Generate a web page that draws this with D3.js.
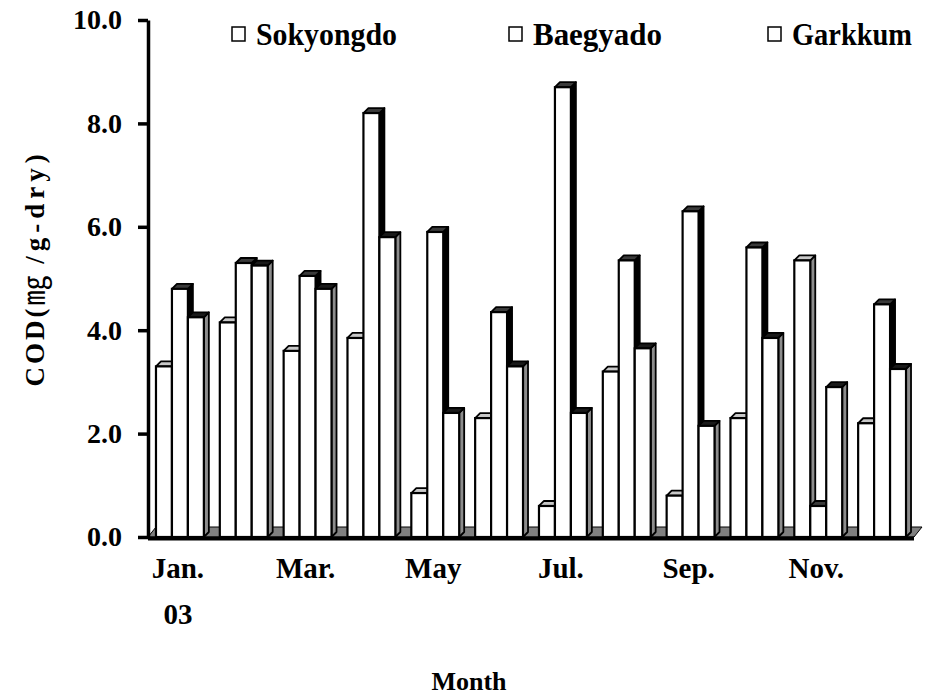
<!DOCTYPE html>
<html>
<head>
<meta charset="utf-8">
<script src="https://cdn.jsdelivr.net/npm/d3@7"></script>
<style>
  body { margin: 0; background: #fff; }
  text { font-family: "Liberation Serif", "Times New Roman", serif; font-weight: bold; fill: #000; }
</style>
</head>
<body>
<svg id="chart" width="925" height="695"></svg>
<script>
// Monthly COD of sediments at three sites
const months = ["Jan.", "Feb.", "Mar.", "Apr.", "May", "Jun.", "Jul.", "Aug.", "Sep.", "Oct.", "Nov.", "Dec."];
const monthLabels = ["Jan.", "", "Mar.", "", "May", "", "Jul.", "", "Sep.", "", "Nov.", ""];
const yearLabel = "03";
const seriesNames = ["Sokyongdo", "Baegyado", "Garkkum"];
const sokyongdo = [3.3, 4.15, 3.6, 3.85, 0.85, 2.3, 0.6, 3.2, 0.8, 2.3, 5.35, 2.2];
const baegyado  = [4.8, 5.3, 5.05, 8.2, 5.9, 4.35, 8.7, 5.35, 6.3, 5.6, 0.6, 4.5];
const garkkum   = [4.25, 5.25, 4.8, 5.8, 2.4, 3.3, 2.4, 3.65, 2.15, 3.85, 2.9, 3.25];
const yTicks = [0, 2, 4, 6, 8, 10];

const seriesValues = [sokyongdo, baegyado, garkkum];
// face shading per series: side and top faces
const shade = {
  Sokyongdo: { side: "#8c8c8c", top: "#c8c8c8" },
  Baegyado:  { side: "#000000", top: "#3a3a3a" },
  Garkkum:   { side: "#8c8c8c", top: "#1a1a1a" }
};

const svg = d3.select("#chart");
const left = 148, right = 914;
const depthX = 5, depthY = 5;       // bar depth offset
const floorX = 8, floorY = 10;      // floor depth offset

const y = d3.scaleLinear().domain([0, 10]).range([537, 20]);
const xg = d3.scaleBand().domain(months).range([left, right]).paddingInner(0.25).paddingOuter(0.125);
const xs = d3.scaleBand().domain(seriesNames).range([0, xg.bandwidth()]);

// floor
const y0 = y(0);
svg.append("polygon")
  .attr("points", [[left, y0], [left + floorX, y0 - floorY], [right + floorX, y0 - floorY], [right, y0]].map(p => p.join(",")).join(" "))
  .attr("fill", "#808080").attr("stroke", "#000").attr("stroke-width", 1);

// bars
const rows = months.map((m, i) => ({ month: m, values: seriesNames.map((s, j) => ({ series: s, value: seriesValues[j][i] })) }));
const groups = svg.append("g").selectAll("g").data(rows).join("g")
  .attr("transform", d => `translate(${xg(d.month)},0)`);

const bar = groups.selectAll("g").data(d => d.values).join("g");
bar.each(function(d) {
  const g = d3.select(this);
  const bx = xs(d.series), bw = xs.bandwidth();
  const yt = y(d.value);
  const pts = a => a.map(p => p.join(",")).join(" ");
  g.append("polygon")
    .attr("points", pts([[bx + bw, yt], [bx + bw + depthX, yt - depthY], [bx + bw + depthX, y0 - depthY], [bx + bw, y0]]))
    .attr("fill", shade[d.series].side).attr("stroke", "#000").attr("stroke-width", 1.8).attr("stroke-linejoin", "round");
  g.append("polygon")
    .attr("points", pts([[bx, yt], [bx + depthX, yt - depthY], [bx + bw + depthX, yt - depthY], [bx + bw, yt]]))
    .attr("fill", shade[d.series].top).attr("stroke", "#000").attr("stroke-width", 1.8).attr("stroke-linejoin", "round");
  g.append("rect")
    .attr("x", bx).attr("y", yt).attr("width", bw).attr("height", y0 - yt)
    .attr("fill", "#fff").attr("stroke", "#000").attr("stroke-width", 2.2);
});

// floor front edge
svg.append("line").attr("x1", left).attr("x2", right).attr("y1", y0 + 1.5).attr("y2", y0 + 1.5)
  .attr("stroke", "#000").attr("stroke-width", 4);

// y axis
const yAxis = svg.append("g").attr("transform", `translate(${left},0)`)
  .call(d3.axisLeft(y).tickValues(yTicks).tickFormat(d3.format(".1f")).tickSize(10).tickSizeOuter(0).tickPadding(16));
yAxis.select(".domain").attr("stroke", "#000").attr("stroke-width", 3.5);
yAxis.selectAll(".tick line").attr("stroke", "#000").attr("stroke-width", 3.5);
yAxis.selectAll(".tick text").attr("font-size", 28).attr("font-family", null).attr("fill", "#000");

// month labels
svg.append("g").selectAll("text").data(months.map((m, i) => ({ m, label: monthLabels[i] })).filter(d => d.label))
  .join("text")
  .attr("x", d => xg(d.m) + xg.bandwidth() / 2 - 2)
  .attr("y", 578)
  .attr("text-anchor", "middle").attr("font-size", 29)
  .text(d => d.label);
svg.append("text").attr("x", xg(months[0]) + xg.bandwidth() / 2 - 2).attr("y", 624)
  .attr("text-anchor", "middle").attr("font-size", 29).text(yearLabel);

// axis titles
svg.append("text").attr("x", 469).attr("y", 690).attr("text-anchor", "middle").attr("font-size", 26).text("Month");
const yTitle = svg.append("text").attr("transform", "translate(44,268) rotate(-90)").attr("text-anchor", "middle")
  .attr("font-size", 27);
yTitle.append("tspan").attr("letter-spacing", "3px").text("COD(");
yTitle.append("tspan").attr("font-family", "'Noto Sans CJK KR', 'Noto Sans CJK SC', sans-serif").attr("font-size", 30).attr("font-weight", "normal").text("㎎");
yTitle.append("tspan").attr("letter-spacing", "5px").text(" /g-dry)");

// legend
const legendX = [232, 509, 768];
const legendW = [141, 129, 120];
const legend = svg.append("g").selectAll("g").data(seriesNames).join("g")
  .attr("transform", (d, i) => `translate(${legendX[i]},0)`);
legend.append("rect").attr("x", 0).attr("y", 27).attr("width", 13).attr("height", 14)
  .attr("fill", "#fff").attr("stroke", "#000").attr("stroke-width", 1.5);
legend.append("text").attr("x", 24).attr("y", 45).attr("font-size", 31)
  .attr("textLength", (d, i) => legendW[i]).attr("lengthAdjust", "spacingAndGlyphs").text(d => d);
</script>
</body>
</html>
